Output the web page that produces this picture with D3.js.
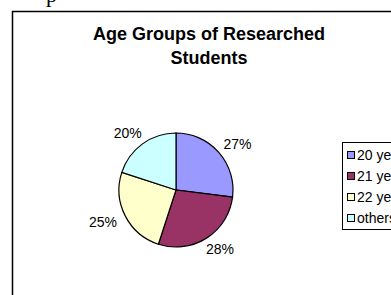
<!DOCTYPE html>
<html>
<head>
<meta charset="utf-8">
<script src="https://cdn.jsdelivr.net/npm/d3@7"></script>
<style>
  html, body { margin: 0; padding: 0; background: #fff; }
  svg { display: block; font-family: Arial, "Liberation Sans", sans-serif; }
</style>
</head>
<body>
<div id="chart"></div>
<script>
// データ
const categories = ["20 years", "21 years", "22 years", "others"];
const values = [27, 28, 25, 20];
const colors = ["#9999FF", "#993366", "#FFFFCC", "#CCFFFF"];
const titleLines = ["Age Groups of Researched", "Students"];

const width = 391, height = 295;
const cx = 176, cy = 190, radius = 57;

const svg = d3.select("#chart").append("svg")
  .attr("width", width)
  .attr("height", height);

// 文書の上の行の切れ端
svg.append("text")
  .attr("x", 46)
  .attr("y", 2)
  .style("font-family", "'Liberation Serif', 'Times New Roman', serif")
  .style("font-size", "22px")
  .text("p");

// グラフ枠
svg.append("rect")
  .attr("x", 12.5)
  .attr("y", 11.5)
  .attr("width", 420)
  .attr("height", 320)
  .attr("fill", "#fff")
  .attr("stroke", "#000")
  .attr("stroke-width", 1.5);

// タイトル
svg.append("text")
  .attr("text-anchor", "middle")
  .style("font-size", "18px")
  .style("font-weight", "bold")
  .selectAll("tspan")
  .data(titleLines)
  .enter()
  .append("tspan")
    .attr("x", 209)
    .attr("y", (d, i) => 40 + i * 24)
    .text(d => d);

// 円グラフ
const pie = d3.pie().sort(null).value(d => d);
const arcs = pie(values);
const arc = d3.arc().innerRadius(0).outerRadius(radius);

const g = svg.append("g")
  .attr("transform", "translate(" + cx + "," + cy + ")");

g.selectAll("path.slice")
  .data(arcs)
  .enter()
  .append("path")
    .attr("class", "slice")
    .attr("d", arc)
    .attr("fill", (d, i) => colors[i])
    .attr("stroke", "#000")
    .attr("stroke-width", 1.2);

// ラベル（外側）
const total = d3.sum(values);
g.selectAll("text.label")
  .data(arcs)
  .enter()
  .append("text")
    .attr("class", "label")
    .attr("text-anchor", "middle")
    .attr("dominant-baseline", "central")
    .style("font-size", "14px")
    .attr("transform", d => {
      const a = (d.startAngle + d.endAngle) / 2;
      const dx = Math.sin(a), dy = -Math.cos(a);
      const x = dx * (radius + 6) + dx * 19;
      const y = dy * (radius + 6) + dy * 7;
      return "translate(" + x + "," + y + ")";
    })
    .text(d => Math.round(d.data / total * 100) + "%");

// 凡例
const legendX = 342, legendY = 142, rowH = 21;
svg.append("rect")
  .attr("x", legendX + 0.5)
  .attr("y", legendY + 0.5)
  .attr("width", 80)
  .attr("height", 87)
  .attr("fill", "#fff")
  .attr("stroke", "#000")
  .attr("stroke-width", 1);

const item = svg.selectAll("g.legend")
  .data(categories)
  .enter()
  .append("g")
    .attr("class", "legend")
    .attr("transform", (d, i) => "translate(" + legendX + "," + (legendY + 13 + i * rowH) + ")");

item.append("rect")
  .attr("x", 5.5)
  .attr("y", -3.5)
  .attr("width", 7)
  .attr("height", 7)
  .attr("fill", (d, i) => colors[i])
  .attr("stroke", "#000")
  .attr("stroke-width", 1);

item.append("text")
  .attr("x", 15)
  .attr("dominant-baseline", "central")
  .style("font-size", "14px")
  .text(d => d);
</script>
</body>
</html>
